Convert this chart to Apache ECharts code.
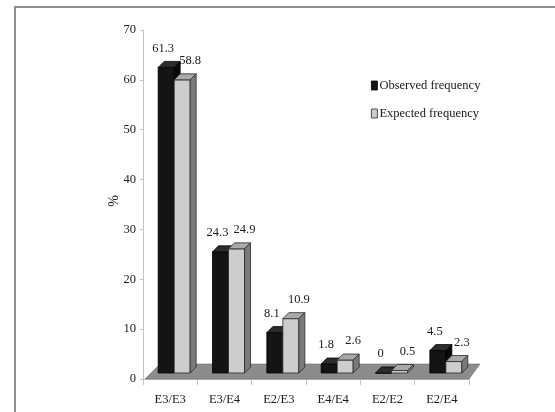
<!DOCTYPE html>
<html>
<head>
<meta charset="utf-8">
<script src="https://cdn.jsdelivr.net/npm/echarts@6/dist/echarts.min.js"></script>
<style>
html, body { margin: 0; padding: 0; background: #fff; }
#chart { width: 555px; height: 412px; }
</style>
</head>
<body>
<div id="chart"></div>
<script>
var categories = ['E3/E3', 'E3/E4', 'E2/E3', 'E4/E4', 'E2/E2', 'E2/E4']
var observed = [61.3, 24.3, 8.1, 1.8, 0, 4.5]
var expected = [58.8, 24.9, 10.9, 2.6, 0.5, 2.3]
var yMin = 0
var yMax = 70
var yStep = 10
var yName = '%'

var font = '"Liberation Serif", "Times New Roman", serif'

// front, top, side, edge
var darkFaces = ['#141414', '#2c2c2c', '#080808', '#000']
var lightFaces = ['#cdcdcd', '#a9a9a9', '#7a7a7a', '#2a2a2a']

function bar3d(offset, faces, labelDx) {
	return function (params, api) {
		var v = api.value(1)
		var top = api.coord([api.value(0), v])
		var base = api.coord([api.value(0), 0])
		var w = 16
		var d = 6
		var x = top[0] + offset
		var ft = top[1] - d
		var fb = base[1] - d
		var edge = { stroke: faces[3], lineWidth: 0.8 }
		return {
			type: 'group',
			children: [
				{
					type: 'rect',
					shape: { x: x, y: ft, width: w, height: fb - ft },
					style: Object.assign({ fill: faces[0] }, edge),
				},
				{
					type: 'polygon',
					shape: { points: [[x, ft], [x + w, ft], [x + w + d, ft - d], [x + d, ft - d]] },
					style: Object.assign({ fill: faces[1] }, edge),
				},
				{
					type: 'polygon',
					shape: { points: [[x + w, ft], [x + w + d, ft - d], [x + w + d, fb - d], [x + w, fb]] },
					style: Object.assign({ fill: faces[2] }, edge),
				},
				{
					type: 'text',
					z2: 10,
					style: {
						text: String(v),
						x: x + w / 2 + labelDx,
						y: ft - 19,
						align: 'center',
						verticalAlign: 'middle',
						fontSize: 12.5,
						fontFamily: font,
						fill: '#1a1a1a',
					},
				},
			],
		}
	}
}

// grey floor under the bars
function floor(params) {
	var cs = params.coordSys
	var b = cs.y + cs.height
	return {
		type: 'polygon',
		shape: {
			points: [
				[cs.x + 2, b],
				[cs.x + cs.width, b],
				[cs.x + cs.width + 11, b - 15],
				[cs.x + 17, b - 15],
			],
		},
		style: { fill: '#8c8c8c', stroke: '#6e6e6e', lineWidth: 0.6 },
	}
}

var chart = echarts.init(document.getElementById('chart'))

chart.setOption({
	backgroundColor: '#fff',
	animation: false,
	graphic: [
		{
			type: 'rect',
			shape: { x: 15, y: 7, width: 620, height: 520 },
			style: { fill: 'none', stroke: '#8f8f8f', lineWidth: 2 },
			silent: true,
		},
		{
			// y axis title, placed by hand (v6 pushes the axis name past the labels)
			type: 'text',
			x: 114,
			y: 201,
			rotation: Math.PI / 2,
			style: {
				text: yName,
				align: 'center',
				verticalAlign: 'middle',
				fontSize: 14,
				fontFamily: font,
				fill: '#1a1a1a',
			},
			silent: true,
		},
	],
	legend: {
		orient: 'vertical',
		left: 366,
		top: 74,
		itemWidth: 6,
		itemHeight: 9,
		itemGap: 15,
		icon: 'rect',
		textStyle: { fontFamily: font, fontSize: 12.5, color: '#1a1a1a', padding: [0, 0, 0, -3] },
		data: [
			{ name: 'Observed frequency', itemStyle: { color: '#141414', borderColor: '#000', borderWidth: 0.8 } },
			{ name: 'Expected frequency', itemStyle: { color: '#cdcdcd', borderColor: '#2a2a2a', borderWidth: 0.8 } },
		],
	},
	grid: { left: 143, right: 86, top: 30, bottom: 33 },
	xAxis: {
		type: 'category',
		data: categories,
		axisLine: { lineStyle: { color: '#c4c4c4', width: 1 } },
		axisTick: { show: true, length: 6, lineStyle: { color: '#c4c4c4' } },
		axisLabel: { fontFamily: font, fontSize: 12.5, color: '#1a1a1a', margin: 14 },
	},
	yAxis: {
		type: 'value',
		min: yMin,
		max: yMax,
		interval: yStep,
		axisLine: { show: true, lineStyle: { color: '#c4c4c4', width: 1 } },
		axisTick: { show: true, length: 3, lineStyle: { color: '#c4c4c4' } },
		axisLabel: { fontFamily: font, fontSize: 12.5, color: '#1a1a1a', margin: 7 },
		splitLine: { show: false },
	},
	series: [
		{
			type: 'custom',
			name: 'floor',
			z: 1,
			renderItem: floor,
			data: [[0, 0]],
			silent: true,
		},
		{
			type: 'custom',
			name: 'Observed frequency',
			z: 2,
			itemStyle: { color: '#141414' },
			renderItem: bar3d(-12, darkFaces, -3),
			data: observed.map(function (v, i) { return [i, v] }),
		},
		{
			type: 'custom',
			name: 'Expected frequency',
			z: 3,
			itemStyle: { color: '#cdcdcd' },
			renderItem: bar3d(4, lightFaces, 8),
			data: expected.map(function (v, i) { return [i, v] }),
		},
	],
})
</script>
</body>
</html>
